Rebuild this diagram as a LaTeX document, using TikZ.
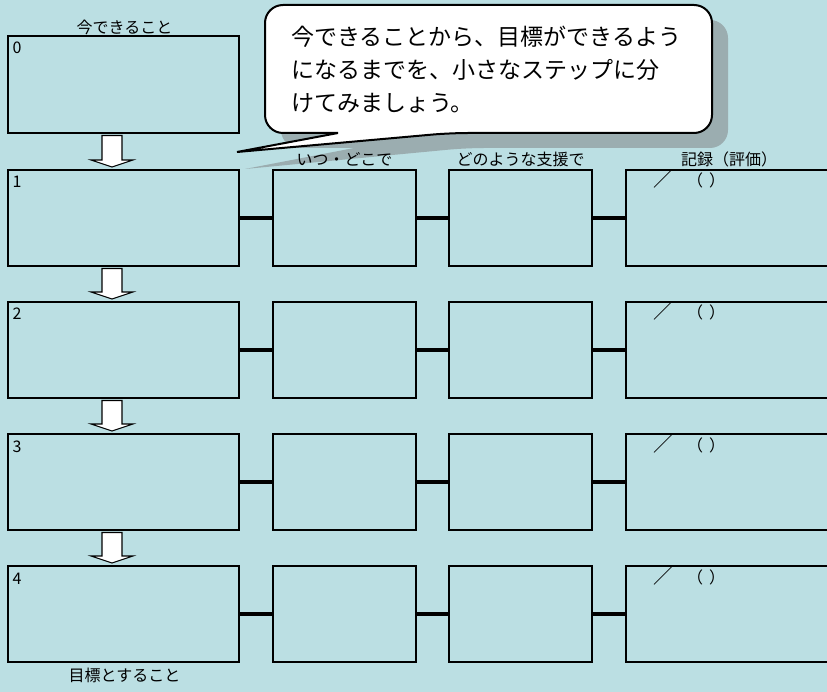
\documentclass[tikz,border=0pt]{standalone}
\usepackage{fontspec}
\setmainfont{Noto Sans CJK JP}
\usetikzlibrary{calc}
\definecolor{bg}{RGB}{187,223,227}
\definecolor{shadowc}{RGB}{155,173,176}
\begin{document}
\begin{tikzpicture}[x=1pt,y=-1pt,
  cell/.style={draw=black, line width=2.4pt, minimum height=96pt, inner sep=0pt, outer sep=0pt, anchor=north west},
  wide/.style={cell, minimum width=231pt},
  mid/.style={cell, minimum width=143pt},
  rec/.style={cell, minimum width=230pt},
  link/.style={draw=black, line width=3.6pt},
  downarrow/.style={draw=black, line width=1.1pt, fill=white, line join=miter},
  head/.style={font=\fontsize{16}{19}\selectfont, anchor=base, inner sep=0pt},
  numlab/.style={font=\fontsize{16}{19}\selectfont, anchor=base west, inner sep=0pt},
  recmark/.style={font=\fontsize{16}{19}\selectfont, anchor=base west, inner sep=0pt},
  calltext/.style={font=\fontsize{23}{33}\selectfont, anchor=base west, inner sep=0pt}
]
\clip (0,0) rectangle (827,692);
\fill[bg] (0,0) rectangle (827,692);

% callout shadow
\fill[shadowc, rounded corners=18pt] (354,148) -- (281,148) -- (281,20) -- (728,20) -- (728,148) -- (466,148) [sharp corners] -- (245,169) -- cycle;

% boxes
\node[wide, minimum height=97pt] (r0) at (8,36) {};
\node[numlab] (n0) at ($(r0.north west)+(4.5,18)$) {0};
\node[head] (lnow) at ($(r0.north)+(1,-2)$) {今できること};

\foreach \i/\y in {1/170,2/302,3/434,4/566} {
  \node[wide] (r\i) at (8,\y) {};
  \node[mid] (w\i) at (273,\y) {};
  \node[mid] (s\i) at (449,\y) {};
  \node[rec] (e\i) at (626,\y) {};
  \draw[link] (r\i.east) -- (w\i.west);
  \draw[link] (w\i.east) -- (s\i.west);
  \draw[link] (s\i.east) -- (e\i.west);
  \node[numlab] (n\i) at ($(r\i.north west)+(4.5,18)$) {\i};
  \node[recmark] (m\i) at ($(e\i.north west)+(27,17)$) {{\fontsize{20}{20}\selectfont ／}\kern14pt（\kern6pt）};
}

% down arrows
\foreach \a/\b in {r0/r1,r1/r2,r2/r3,r3/r4} {
  \draw[downarrow] ($(\a.south west)+(94,2.5)$) -- ($(\a.south west)+(114,2.5)$)
    -- ($(\b.north west)+(114,-10)$) -- ($(\b.north west)+(125,-10)$)
    -- ($(\b.north west)+(104,-3)$) -- ($(\b.north west)+(83,-10)$)
    -- ($(\b.north west)+(94,-10)$) -- cycle;
}

% headers
\node[head] (hwhen) at ($(w1.north)+(0,-4)$) {いつ・どこで};
\node[head] (hhow) at ($(s1.north)+(0,-4)$) {どのような支援で};
\node[head] (hrec) at ($(e1.north west)+(103,-4)$) {記録（評価）};
\node[head] (lgoal) at ($(r4.south)+(1,19)$) {目標とすること};

% callout
\draw[line width=2pt, fill=white, rounded corners=18pt] (338,133) -- (265,133) -- (265,5) -- (712,5) -- (712,133) -- (450,133) [sharp corners] -- (237,152) -- cycle;
\node[calltext] (c1) at (291,45.5) {今できることから、目標ができるよう};
\node[calltext] (c2) at (291,79) {になるまでを、小さなステップに分};
\node[calltext] (c3) at (291,112) {けてみましょう。};
\end{tikzpicture}
\end{document}
